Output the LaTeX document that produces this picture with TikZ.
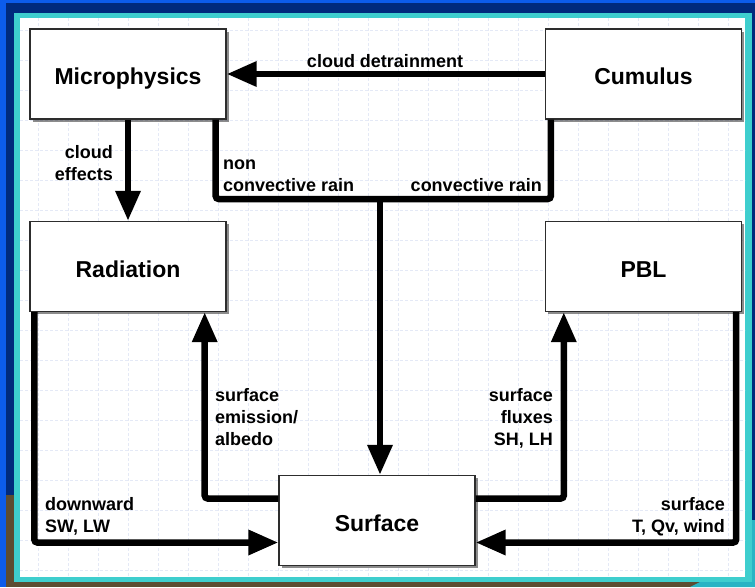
\documentclass[tikz,border=0pt]{standalone}
\usepackage{fontspec}
\setmainfont{Liberation Sans}
\usetikzlibrary{arrows.meta,shadows,calc}
\definecolor{bgblue}{RGB}{12,92,235}
\definecolor{navy}{RGB}{0,42,125}
\definecolor{frameteal}{RGB}{62,206,206}
\definecolor{sea}{RGB}{40,180,196}
\definecolor{earth}{RGB}{92,76,50}
\definecolor{gridc}{RGB}{228,233,246}
\definecolor{boxline}{RGB}{45,45,45}

\begin{document}
\begin{tikzpicture}[x=1pt,y=-1pt,
  module/.style={draw=boxline,line width=1.4pt,fill=white,
    minimum width=196pt,minimum height=90pt,inner sep=0pt,
    text height=21pt,text depth=0pt,
    font=\bfseries\fontsize{23}{26}\selectfont,
    drop shadow={shadow xshift=2.5pt,shadow yshift=-2.5pt,opacity=.45,fill=black}},
  wire/.style={line width=6.5pt,rounded corners=3pt},
  flow/.style={wire,-{Triangle[length=30pt,width=24pt]}},
  lbl/.style={font=\bfseries\fontsize{18}{22}\selectfont,inner sep=0pt},
  gridline/.style={gridc,line width=0.8pt,dash pattern=on 3pt off 2pt}]

\useasboundingbox (0,0) rectangle (755,587);

% slide background and frame
\fill[navy] (0,0) rectangle (755,587);
\fill[bgblue] (0,0) rectangle (6,587);
\fill[bgblue] (0,0) rectangle (755,3);
\fill[earth] (6,495) rectangle (14,587);
\fill[earth] (6,582) rectangle (700,587);
\fill[sea] (752,520) -- (755,520) -- (755,587) -- (690,587) -- (700,582) -- (752,582) -- cycle;
\fill[frameteal] (14,13) rectangle (752,582);
\fill[white] (20,18) rectangle (745,577);

% faint background grid
\foreach \gx in {38,68,...,728} \draw[gridline] (\gx,18) -- (\gx,577);
\foreach \gy in {30,60,...,570} \draw[gridline] (20,\gy) -- (745,\gy);

% modules
\node[module] (mic) at (128,74)    {Microphysics};
\node[module] (cum) at (643.5,74)  {Cumulus};
\node[module] (rad) at (128,266.5) {Radiation};
\node[module] (pbl) at (643.5,266.5) {PBL};
\node[module] (sur) at (377,520.5) {Surface};

% couplings
\draw[flow] (cum.west) -- (mic.east);
\draw[flow] (mic.south) -- (rad.north);
\coordinate (rj) at (380,199);
\draw[wire] ([xshift=-11pt]mic.south east) |- (rj) -| ([xshift=6pt]cum.south west);
\draw[flow] (rj) -- (rj |- sur.north);
\draw[flow] ([xshift=5pt]rad.south west) |- ([yshift=-22pt]sur.west);
\draw[flow] ([yshift=22pt]sur.west) -| ([xshift=-22pt]rad.south east);
\draw[flow] ([yshift=22pt]sur.east) -| ([xshift=19pt]pbl.south west);
\draw[flow] ([xshift=-6pt]pbl.south east) |- ([yshift=-22pt]sur.east);

% coupling labels (base anchor sits on the last line)
\node[lbl,anchor=base] (tdet) at (385,67) {cloud detrainment};
\node[lbl,align=right,anchor=base east] (tce) at (113,180) {cloud\\effects};
\node[lbl,align=left,anchor=base west] (tncr) at (223,191) {non\\convective rain};
\node[lbl,anchor=base east] (tcr) at (542,191) {convective rain};
\node[lbl,align=left,anchor=base west] (tsea) at (215,445) {surface\\emission/\\albedo};
\node[lbl,align=right,anchor=base east] (tsf) at (553,445) {surface\\fluxes\\SH, LH};
\node[lbl,align=left,anchor=base west] (tdsw) at (45,532) {downward\\SW, LW};
\node[lbl,align=right,anchor=base east] (tstq) at (725,532) {surface\\T, Qv, wind};
\end{tikzpicture}
\end{document}
